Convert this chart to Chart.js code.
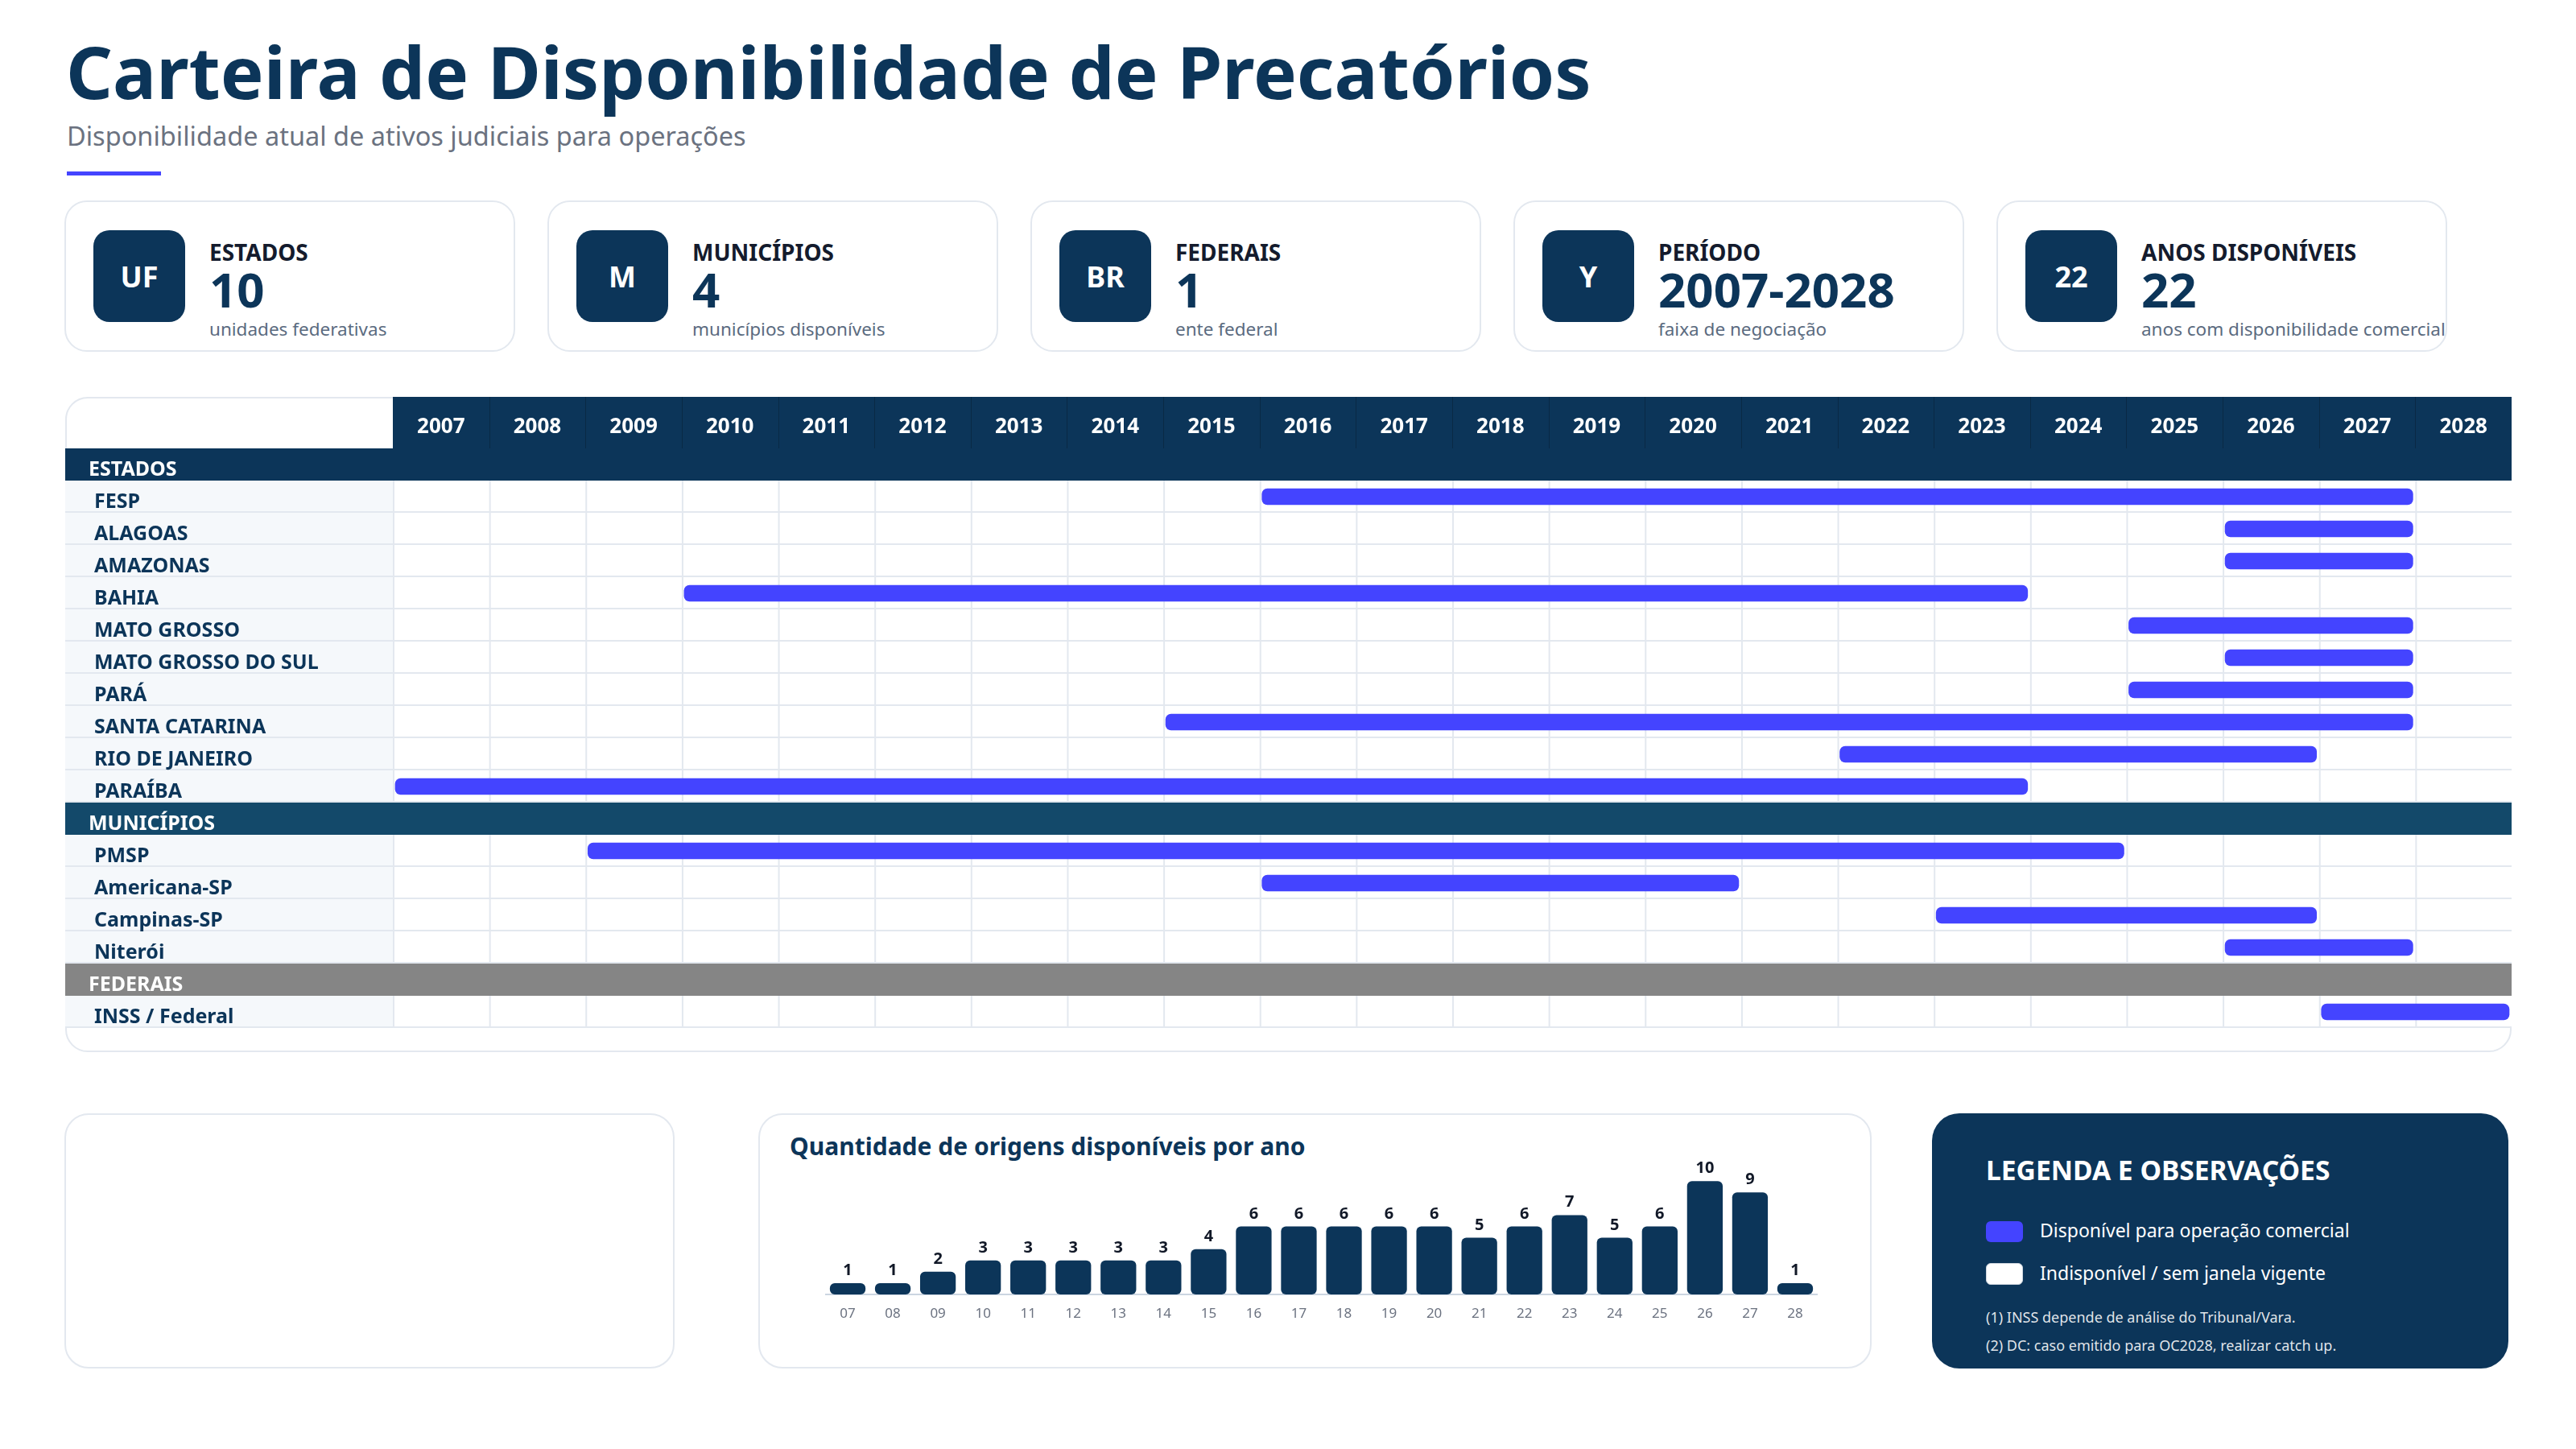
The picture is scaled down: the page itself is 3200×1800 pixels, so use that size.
<!DOCTYPE html>
<html lang="pt-BR">
<head>
<meta charset="utf-8">
<title>Carteira de Disponibilidade de Precatórios</title>
<script src="https://cdn.jsdelivr.net/npm/chart.js@4.4.1/dist/chart.umd.min.js"></script>
<style>
  html, body { margin: 0; padding: 0; }
  body { width: 3200px; height: 1800px; background: #ffffff; position: relative; overflow: hidden; font-family: "Noto Sans", "Open Sans", sans-serif; }
  .abs { position: absolute; line-height: 1; white-space: nowrap; }
  #title { left: 82px; top: 43px; font-size: 90.4px; font-weight: 700; color: #0c3559; }
  #subtitle { left: 83px; top: 153px; font-size: 32.5px; color: #6b7280; }
  #accent { left: 83px; top: 213px; width: 117px; height: 5px; background: #4444ff; }
  .kpi { position: absolute; top: 249px; width: 560px; height: 188px; box-sizing: border-box; border: 2px solid #e3e8ef; border-radius: 28px; background: #fff; }
  .kpi .icon { position: absolute; left: 34px; top: 35px; width: 114px; height: 114px; border-radius: 20px; background: #0c3559; color: #fff; font-weight: 700; font-size: 36px; display: flex; align-items: center; justify-content: center; }
  .kpi .lab { position: absolute; left: 178px; top: 48px; font-size: 28px; font-weight: 700; color: #141b2d; line-height: 1; white-space: nowrap; }
  .kpi .num { position: absolute; left: 178px; top: 78px; font-size: 60px; font-weight: 700; color: #0c3559; line-height: 1; white-space: nowrap; }
  .kpi .sub { position: absolute; left: 178px; top: 147px; font-size: 22.5px; color: #5b6b80; line-height: 1; white-space: nowrap; }
  #ganttCard { position: absolute; left: 81px; top: 493px; width: 3039px; height: 814px; box-sizing: border-box; border: 2px solid #e3e8ef; border-radius: 28px; background: #fff; }
  #gantt { position: absolute; left: 81px; top: 493px; }
  .card { position: absolute; top: 1383px; height: 317px; box-sizing: border-box; border: 2px solid #e3e8ef; border-radius: 30px; background: #fff; }
  #barTitle { left: 981px; top: 1409px; font-size: 30px; font-weight: 700; color: #0c3559; }
  #bars { position: absolute; left: 1025px; top: 1439px; }
  #legend { position: absolute; left: 2400px; top: 1383px; width: 716px; height: 317px; border-radius: 34px; background: #0c3559; color: #fff; }
  #legend .t { position: absolute; left: 67px; top: 54px; font-size: 33.6px; font-weight: 700; line-height: 1; white-space: nowrap; }
  #legend .sw { position: absolute; left: 67px; width: 46px; height: 26px; border-radius: 6px; box-sizing: border-box; }
  #legend .lt { position: absolute; left: 134px; font-size: 23px; line-height: 1; white-space: nowrap; }
  #legend .n { position: absolute; left: 67px; font-size: 18px; line-height: 1; white-space: nowrap; color: rgba(255,255,255,0.88); }
</style>
</head>
<body>
<div id="title" class="abs">Carteira de Disponibilidade de Precatórios</div>
<div id="subtitle" class="abs">Disponibilidade atual de ativos judiciais para operações</div>
<div id="accent" class="abs"></div>

<div class="kpi" style="left:80px"><div class="icon">UF</div><div class="lab">ESTADOS</div><div class="num">10</div><div class="sub">unidades federativas</div></div>
<div class="kpi" style="left:680px"><div class="icon">M</div><div class="lab">MUNICÍPIOS</div><div class="num">4</div><div class="sub">municípios disponíveis</div></div>
<div class="kpi" style="left:1280px"><div class="icon">BR</div><div class="lab">FEDERAIS</div><div class="num">1</div><div class="sub">ente federal</div></div>
<div class="kpi" style="left:1880px"><div class="icon">Y</div><div class="lab">PERÍODO</div><div class="num">2007-2028</div><div class="sub">faixa de negociação</div></div>
<div class="kpi" style="left:2480px"><div class="icon">22</div><div class="lab">ANOS DISPONÍVEIS</div><div class="num">22</div><div class="sub">anos com disponibilidade comercial</div></div>

<div id="ganttCard"></div>
<canvas id="gantt" width="3039" height="784"></canvas>

<div class="card" style="left:80px; width:758px;"></div>
<div class="card" style="left:942px; width:1383px;"></div>
<div id="barTitle" class="abs">Quantidade de origens disponíveis por ano</div>
<canvas id="bars" width="1233" height="209"></canvas>

<div id="legend">
  <div class="t">LEGENDA E OBSERVAÇÕES</div>
  <div class="sw" style="top:134px; background:#4444ff;"></div>
  <div class="lt" style="top:134px;">Disponível para operação comercial</div>
  <div class="sw" style="top:186px; height:27px; background:#ffffff; border:1px solid #cfd6df;"></div>
  <div class="lt" style="top:187px;">Indisponível / sem janela vigente</div>
  <div class="n" style="top:244px;">(1) INSS depende de análise do Tribunal/Vara.</div>
  <div class="n" style="top:279px;">(2) DC: caso emitido para OC2028, realizar catch up.</div>
</div>

<script>
// ---------- DATA ----------
const years = ['2007','2008','2009','2010','2011','2012','2013','2014','2015','2016','2017',
               '2018','2019','2020','2021','2022','2023','2024','2025','2026','2027','2028'];
const rowLabels = ['ESTADOS','FESP','ALAGOAS','AMAZONAS','BAHIA','MATO GROSSO','MATO GROSSO DO SUL',
                   'PARÁ','SANTA CATARINA','RIO DE JANEIRO','PARAÍBA','MUNICÍPIOS','PMSP',
                   'Americana-SP','Campinas-SP','Niterói','FEDERAIS','INSS / Federal'];
const rowKinds = ['estados','item','item','item','item','item','item','item','item','item','item',
                  'municipios','item','item','item','item','federais','item'];
const startYears = [null,2016,2026,2026,2010,2025,2026,2025,2015,2022,2007,null,2009,2016,2023,2026,null,2027];
const endYears   = [null,2027,2027,2027,2023,2027,2027,2027,2027,2026,2023,null,2024,2020,2026,2027,null,2028];
const countLabels = ['07','08','09','10','11','12','13','14','15','16','17','18','19','20','21','22','23','24','25','26','27','28'];
const counts = [1,1,2,3,3,3,3,3,4,6,6,6,6,6,5,6,7,5,6,10,9,1];

// ---------- STYLE ----------
const NAVY = '#0c3559';
const BLUE = '#4444ff';
const GRID = '#e3e8ef';
const FONT = '"Noto Sans", "Open Sans", sans-serif';
const sectionColors = { estados: '#0c3559', municipios: '#13496a', federais: '#858585' };

const firstYear = Number(years[0]);
const lastYearEnd = Number(years[years.length - 1]) + 1;

// ---------- GANTT ----------
const ganttBackdrop = {
  id: 'ganttBackdrop',
  beforeDraw(chart) {
    const { ctx, chartArea: a, scales } = chart;
    const x = scales.x, y = scales.y;
    const rowH = (a.bottom - a.top) / rowLabels.length;
    const bounds = years.map(v => x.getPixelForValue(Number(v))).concat([x.getPixelForValue(lastYearEnd)]);
    ctx.save();
    ctx.fillStyle = NAVY;
    ctx.fillRect(a.left, 0, a.right - a.left, a.top);
    ctx.strokeStyle = 'rgba(0,0,0,0.22)';
    ctx.lineWidth = 1;
    for (let k = 1; k < bounds.length - 1; k++) {
      const px = Math.round(bounds[k]) + 0.5;
      ctx.beginPath(); ctx.moveTo(px, 0); ctx.lineTo(px, a.top); ctx.stroke();
    }
    rowLabels.forEach((lab, i) => {
      const cy = y.getPixelForValue(i);
      const top = cy - rowH / 2;
      const kind = rowKinds[i];
      if (kind !== 'item') {
        ctx.fillStyle = sectionColors[kind];
        ctx.fillRect(0, top, a.right, rowH);
      } else {
        ctx.fillStyle = '#f5f8fb';
        ctx.fillRect(0, top, a.left, rowH);
        ctx.fillStyle = '#ffffff';
        ctx.fillRect(a.left, top, a.right - a.left, rowH);
      }
    });
    ctx.strokeStyle = GRID;
    ctx.lineWidth = 2;
    rowLabels.forEach((lab, i) => {
      if (rowKinds[i] !== 'item') return;
      const cy = y.getPixelForValue(i);
      const top = cy - rowH / 2, bottom = cy + rowH / 2;
      for (let k = 0; k < bounds.length - 1; k++) {
        const px = bounds[k] + 1;
        ctx.beginPath(); ctx.moveTo(px, top); ctx.lineTo(px, bottom); ctx.stroke();
      }
      ctx.beginPath(); ctx.moveTo(0, bottom - 1); ctx.lineTo(a.right, bottom - 1); ctx.stroke();
    });
    ctx.restore();
  }
};

const rowTickFont = { family: FONT, size: 25, weight: 'bold' };

new Chart(document.getElementById('gantt'), {
  type: 'bar',
  data: {
    labels: rowLabels,
    datasets: [{
      data: rowLabels.map((_, i) => startYears[i] === null ? null : [startYears[i], endYears[i] + 1]),
      backgroundColor: BLUE,
      borderColor: 'rgba(0,0,0,0)',
      borderWidth: 3,
      borderRadius: 10,
      borderSkipped: false,
      barThickness: 26,
      xAxisID: 'x',
      yAxisID: 'y'
    }]
  },
  options: {
    indexAxis: 'y',
    responsive: false,
    animation: false,
    devicePixelRatio: 1,
    events: [],
    layout: { padding: { left: 29, right: 0, top: 0, bottom: 0 } },
    plugins: { legend: { display: false }, tooltip: { enabled: false } },
    scales: {
      x: {
        type: 'linear', display: false, min: firstYear, max: lastYearEnd
      },
      x2: {
        type: 'category', labels: years, position: 'top', offset: true,
        grid: { display: false, drawTicks: false }, border: { display: false },
        ticks: { color: '#ffffff', font: { family: FONT, size: 26, weight: 'bold' }, padding: 11, autoSkip: false, maxRotation: 0 },
        afterFit(s) { s.height = 64; s.paddingLeft = 0; s.paddingRight = 0; }
      },
      ySec: {
        type: 'category', labels: rowLabels, position: 'left', offset: true, weight: 2,
        grid: { display: false, drawTicks: false }, border: { display: false },
        ticks: {
          mirror: true, crossAlign: 'near', padding: -7, autoSkip: false, labelOffset: 7,
          color: '#ffffff', font: rowTickFont,
          callback: (v, i) => rowKinds[i] === 'item' ? '' : rowLabels[i]
        },
        afterFit(s) { s.width = 7; s.paddingTop = 0; s.paddingBottom = 0; }
      },
      y: {
        type: 'category', position: 'left', offset: true, weight: 1,
        grid: { display: false, drawTicks: false }, border: { display: false },
        ticks: {
          crossAlign: 'far', autoSkip: false, labelOffset: 7, color: NAVY, font: rowTickFont,
          callback: (v, i) => rowKinds[i] === 'item' ? rowLabels[i] : ''
        },
        afterFit(s) { s.width = 371; s.paddingTop = 0; s.paddingBottom = 0; }
      }
    }
  },
  plugins: [ganttBackdrop]
});

// ---------- COUNT BAR CHART ----------
const valueLabels = {
  id: 'valueLabels',
  afterDatasetsDraw(chart) {
    const { ctx } = chart;
    const meta = chart.getDatasetMeta(0);
    ctx.save();
    ctx.font = 'bold 20px ' + FONT;
    ctx.fillStyle = '#111827';
    ctx.textAlign = 'center';
    ctx.textBaseline = 'alphabetic';
    meta.data.forEach((bar, i) => { ctx.fillText(String(counts[i]), bar.x, bar.y - 10); });
    ctx.restore();
  }
};

new Chart(document.getElementById('bars'), {
  type: 'bar',
  data: {
    labels: countLabels,
    datasets: [{
      data: counts,
      backgroundColor: NAVY,
      borderRadius: 6,
      borderSkipped: false,
      categoryPercentage: 1,
      barPercentage: 0.79
    }]
  },
  options: {
    responsive: false,
    animation: false,
    devicePixelRatio: 1,
    events: [],
    layout: { padding: 0 },
    plugins: { legend: { display: false }, tooltip: { enabled: false } },
    scales: {
      x: {
        grid: { display: false, drawTicks: false },
        border: { display: true, color: '#cbd5e1', width: 2 },
        ticks: { color: '#6b7280', font: { family: FONT, size: 17 }, padding: 14, autoSkip: false, maxRotation: 0 },
        afterFit(s) { s.height = 40; }
      },
      y: { display: false, min: 0, max: 12 }
    }
  },
  plugins: [valueLabels]
});
</script>
</body>
</html>
